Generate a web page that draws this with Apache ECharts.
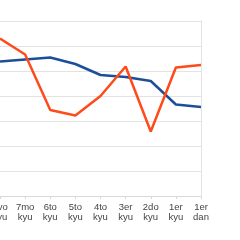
<!DOCTYPE html>
<html><head><meta charset="utf-8">
<script src="https://cdn.jsdelivr.net/npm/echarts@6/dist/echarts.min.js"></script>
<style>html,body{margin:0;padding:0;background:#fff}#c{width:240px;height:240px}</style>
</head><body><div id="c"></div>
<script>
const categories = ["8vo\nkyu","7mo\nkyu","6to\nkyu","5to\nkyu","4to\nkyu","3er\nkyu","2do\nkyu","1er\nkyu","1er\ndan"];
const blueValues = [26.9, 27.3, 27.7, 26.4, 24.2, 23.8, 23.0, 18.3, 17.8];
const orangeValues = [31.5, 28.3, 17.2, 16.1, 20.0, 25.9, 12.9, 25.7, 26.2];
const yTicks = {min: 0, max: 35, interval: 5};

const chart = echarts.init(document.getElementById('c'), null, {renderer: 'canvas'});
chart.setOption({
  animation: false,
  grid: {left: 0, right: 39, top: 21, bottom: 44, containLabel: false, outerBoundsMode: 'none'},
  xAxis: {
    type: 'category', data: categories, boundaryGap: false,
    axisLine: {lineStyle: {color: '#d9d9d9'}},
    axisTick: {show: true, length: 3, lineStyle: {color: '#d9d9d9'}},
    axisLabel: {color: '#444', fontSize: 9.5, fontFamily: 'Liberation Sans', lineHeight: 9.5, margin: 7, interval: 0},
    splitLine: {show: false}
  },
  yAxis: [{
    type: 'value', min: yTicks.min, max: yTicks.max, interval: yTicks.interval,
    axisLabel: {show: false}, axisLine: {show: false}, axisTick: {show: false},
    splitLine: {lineStyle: {color: '#e3e3e3', width: 1}}
  }, {
    type: 'value', position: 'right', min: yTicks.min, max: yTicks.max, interval: yTicks.interval,
    axisLabel: {show: false}, axisTick: {show: false},
    axisLine: {show: true, lineStyle: {color: '#e3e3e3'}}, splitLine: {show: false}
  }],
  series: [
    {type: 'line', data: blueValues, symbol: 'none', lineStyle: {color: '#1c4f97', width: 2.5}},
    {type: 'line', data: orangeValues, symbol: 'none', lineStyle: {color: '#ff4a1a', width: 2.5}}
  ]
});
</script></body></html>
